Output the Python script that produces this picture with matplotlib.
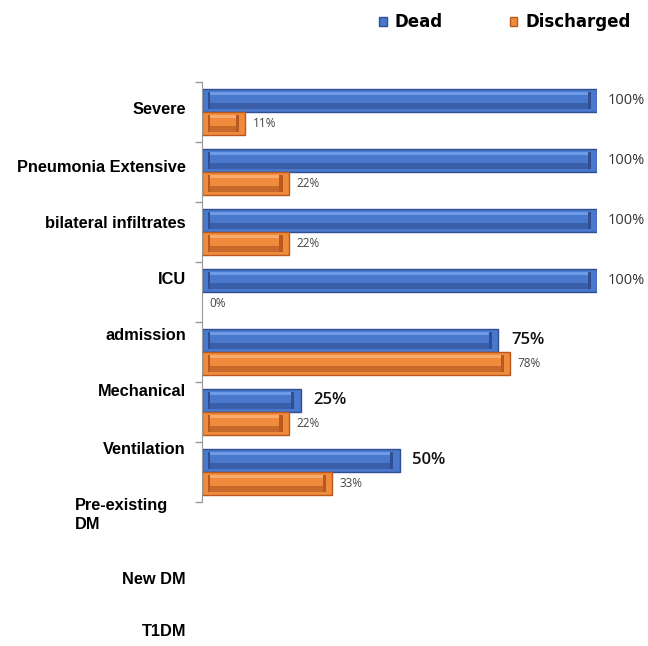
import numpy as np
import matplotlib.pyplot as plt
from matplotlib.patches import Patch

# group labels as they sit on the left of the chart
labels = ['Severe', 'Pneumonia Extensive', 'bilateral infiltrates', 'ICU',
          'admission', 'Mechanical', 'Ventilation', 'Pre-existing\nDM',
          'New DM', 'T1DM']
# pixel rows of the labels (they do not line up with the bars in the original)
label_rows = [110, 167, 223, 279, 336, 392, 449, 515, 580, 632]

dead = [100, 100, 100, 100, 75, 25, 50]
discharged = [11, 22, 22, 0, 78, 22, 33]

W, H = 648, 646
fig = plt.figure(figsize=(W / 100, H / 100), dpi=100)
ax = fig.add_axes([202 / W, 144 / H, 395 / W, 420 / H])

n = len(dead)
y = np.arange(n)
h = 0.383

blue = dict(face='#4a78cc', edge='#2f4f92', light='#6e9be6', dark='#3a5ea8')
orange = dict(face='#f08a3c', edge='#b85a20', light='#f8ab6a', dark='#c8692c')


def bevel_bars(yc, vals, c):
    vals = np.array(vals, dtype=float)
    ok = vals > 0
    ins = 1.6
    ax.barh(yc[ok], vals[ok], height=h, color=c['face'], edgecolor=c['edge'], linewidth=1.0)
    ax.barh(yc[ok] - h * 0.30, vals[ok] - 2 * ins, left=ins, height=h * 0.14,
            color=c['light'], linewidth=0)
    ax.barh(yc[ok] + h * 0.24, vals[ok] - 2 * ins, left=ins, height=h * 0.24,
            color=c['dark'], linewidth=0)
    # little end caps
    ax.barh(yc[ok], np.full(ok.sum(), 0.8), left=vals[ok] - ins - 0.8, height=h * 0.7,
            color=c['edge'], linewidth=0)
    ax.barh(yc[ok], np.full(ok.sum(), 0.5), left=ins, height=h * 0.7,
            color=c['edge'], linewidth=0)


y_dead = y + 0.308
y_dis = y + 0.692
bevel_bars(y_dead, dead, blue)
bevel_bars(y_dis, discharged, orange)

for yy, v in zip(y_dead, dead):
    if v == 100:
        ax.text(v + 2.8, yy, f'{v}%', va='center', ha='left', fontsize=10.5,
                color='#333333', family='Open Sans', clip_on=False)
    else:
        ax.text(v + 3.2, yy, f'{v}%', va='center', ha='left', fontsize=12,
                color='#111111', family='Open Sans', fontweight='semibold', clip_on=False)
for yy, v in zip(y_dis, discharged):
    ax.text(v + 1.8, yy, f'{v}%', va='center', ha='left', fontsize=8.5,
            color='#444444', family='Open Sans', clip_on=False)

ax.set_xlim(0, 100)
ax.set_ylim(n, 0)
ax.set_xticks([])
ax.set_yticks(np.arange(n + 1))
ax.set_yticklabels([])
ax.tick_params(axis='y', direction='out', length=5, color='#999999', width=1)
for s in ['top', 'right', 'bottom']:
    ax.spines[s].set_visible(False)
ax.spines['left'].set_color('#999999')

for lab, row in zip(labels, label_rows):
    if '\n' in lab:
        fig.text(75 / W, 1 - row / H, lab, ha='left', va='center', fontsize=11.8,
                 fontweight='bold', family='Liberation Sans', linespacing=1.3)
    else:
        fig.text(186 / W, 1 - row / H, lab, ha='right', va='center', fontsize=11.8,
                 fontweight='bold', family='Liberation Sans')

handles = [Patch(facecolor=blue['face'], edgecolor=blue['edge']),
           Patch(facecolor=orange['face'], edgecolor=orange['edge'])]
fig.legend(handles, ['Dead', 'Discharged'], loc='center', ncol=2,
           bbox_to_anchor=(505 / W, 1 - 22 / H), frameon=False,
           prop={'family': 'DejaVu Sans', 'weight': 'bold', 'size': 12},
           handlelength=0.45, handleheight=0.45, handletextpad=0.5,
           columnspacing=4.0)

fig.savefig('out.png', dpi=100)
